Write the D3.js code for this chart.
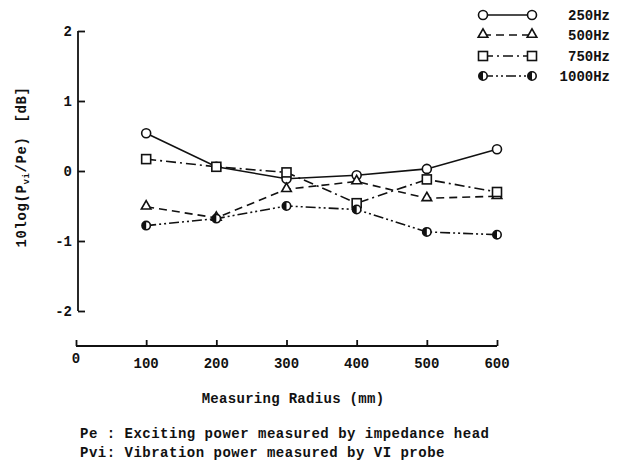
<!DOCTYPE html>
<html>
<head>
<meta charset="utf-8">
<script src="https://cdn.jsdelivr.net/npm/d3@7"></script>
<style>
  body { margin: 0; background: #fff; }
  text { font-family: "Liberation Mono", "DejaVu Sans Mono", monospace; font-weight: bold; fill: #111; }
</style>
</head>
<body>
<svg width="623" height="473"></svg>
<script>
// measuring radius (mm)
var radius = [100, 200, 300, 400, 500, 600];
// 10log(Pvi/Pe) [dB] for each frequency
var f250 = [0.54, 0.06, -0.11, -0.06, 0.03, 0.31];
var f500 = [-0.51, -0.67, -0.26, -0.15, -0.39, -0.36];
var f750 = [0.17, 0.06, -0.02, -0.46, -0.12, -0.30];
var f1000 = [-0.78, -0.68, -0.50, -0.55, -0.87, -0.91];
var seriesNames = ["250Hz", "500Hz", "750Hz", "1000Hz"];
var xTicks = [0, 100, 200, 300, 400, 500, 600];
var yTicks = [-2, -1, 0, 1, 2];

var svg = d3.select("svg");
var ink = "#111";

var xScale = d3.scaleLinear().domain([0, 600]).range([76, 497]);
var yScale = d3.scaleLinear().domain([-2, 2]).range([311, 31]);

// y axis (ticks point inward)
var y_axis = d3.axisRight(yScale).tickValues(yTicks).tickSize(7).tickFormat("");
var gy = svg.append("g").attr("transform", "translate(78,0)").call(y_axis);
gy.selectAll("path, line").attr("stroke", ink).attr("stroke-width", 1.8);
gy.select(".domain").attr("d", "M0," + yScale(2) + "V" + yScale(-2));
svg.selectAll(".ylab").data(yTicks).enter().append("text")
  .attr("x", 72).attr("y", function(d) { return yScale(d) + 5; })
  .attr("text-anchor", "end").attr("font-size", 14)
  .text(function(d) { return d; });

// x axis, detached below the plot, ticks point up
var x_axis = d3.axisTop(xScale).tickValues(xTicks).tickSize(6).tickFormat("");
var gx = svg.append("g").attr("transform", "translate(0,346)").call(x_axis);
gx.selectAll("path, line").attr("stroke", ink).attr("stroke-width", 1.8);
gx.select(".domain").attr("d", "M" + xScale(0) + ",0H" + xScale(600));
svg.selectAll(".xlab").data(xTicks).enter().append("text")
  .attr("x", function(d) { return xScale(d); })
  .attr("y", function(d) { return d === 0 ? 363 : 368; })
  .attr("text-anchor", "middle").attr("font-size", 14)
  .text(function(d) { return d; });

// axis titles
svg.append("text").attr("x", 293).attr("y", 403).attr("text-anchor", "middle")
  .attr("font-size", 14).attr("letter-spacing", 0.3).text("Measuring Radius (mm)");
var yt = svg.append("text").attr("transform", "translate(26,167) rotate(-90)")
  .attr("text-anchor", "middle").attr("font-size", 14).attr("letter-spacing", 0.6);
yt.append("tspan").text("10log(P");
yt.append("tspan").attr("font-size", 9).attr("dy", 3).text("vi");
yt.append("tspan").attr("dy", -3).text("/Pe)");
yt.append("tspan").attr("dx", 14).text("[dB]");

// notes
svg.append("text").attr("x", 80).attr("y", 438).attr("font-size", 14).attr("letter-spacing", 0.5)
  .text("Pe : Exciting power measured by impedance head");
svg.append("text").attr("x", 80).attr("y", 457).attr("font-size", 14).attr("letter-spacing", 0.5)
  .text("Pvi: Vibration power measured by VI probe");

var series = [
  { name: seriesNames[0], values: f250, dash: null, marker: "circle" },
  { name: seriesNames[1], values: f500, dash: "8,5", marker: "triangle" },
  { name: seriesNames[2], values: f750, dash: "10,4,2,4", marker: "square" },
  { name: seriesNames[3], values: f1000, dash: "10,3,2,3,2,3", marker: "half" }
];

var line = d3.line()
  .x(function(d, i) { return xScale(radius[i]); })
  .y(function(d) { return yScale(d); });

function drawMarker(g, type, x, y) {
  if (type === "circle") {
    g.append("circle").attr("cx", x).attr("cy", y).attr("r", 4.5)
      .attr("fill", "#fff").attr("stroke", ink).attr("stroke-width", 1.6);
  } else if (type === "triangle") {
    g.append("path").attr("d", d3.symbol().type(d3.symbolTriangle).size(40)())
      .attr("transform", "translate(" + x + "," + (y - 0.5) + ")")
      .attr("fill", "#fff").attr("stroke", ink).attr("stroke-width", 1.6);
  } else if (type === "square") {
    g.append("rect").attr("x", x - 4.5).attr("y", y - 4.5).attr("width", 9).attr("height", 9)
      .attr("fill", "#fff").attr("stroke", ink).attr("stroke-width", 1.6);
  } else {
    g.append("circle").attr("cx", x).attr("cy", y).attr("r", 4.2)
      .attr("fill", "#fff").attr("stroke", ink).attr("stroke-width", 1.6);
    g.append("path").attr("d", "M" + x + "," + (y - 4.2) + "A4.2,4.2 0 0,0 " + x + "," + (y + 4.2) + "Z")
      .attr("fill", ink);
  }
}

series.forEach(function(s) {
  svg.append("path").datum(s.values).attr("d", line)
    .attr("fill", "none").attr("stroke", ink).attr("stroke-width", 1.6)
    .attr("stroke-dasharray", s.dash);
});
series.forEach(function(s) {
  var g = svg.append("g");
  s.values.forEach(function(v, i) { drawMarker(g, s.marker, xScale(radius[i]), yScale(v)); });
});

// legend
var legY = [15, 35, 56, 76];
series.forEach(function(s, i) {
  var g = svg.append("g");
  g.append("line").attr("x1", 483).attr("x2", 532).attr("y1", legY[i]).attr("y2", legY[i])
    .attr("stroke", ink).attr("stroke-width", 1.6).attr("stroke-dasharray", s.dash);
  drawMarker(g, s.marker, 483, legY[i]);
  drawMarker(g, s.marker, 532, legY[i]);
  g.append("text").attr("x", 610).attr("y", legY[i] + 5).attr("text-anchor", "end")
    .attr("font-size", 14).text(s.name);
});
</script>
</body>
</html>
